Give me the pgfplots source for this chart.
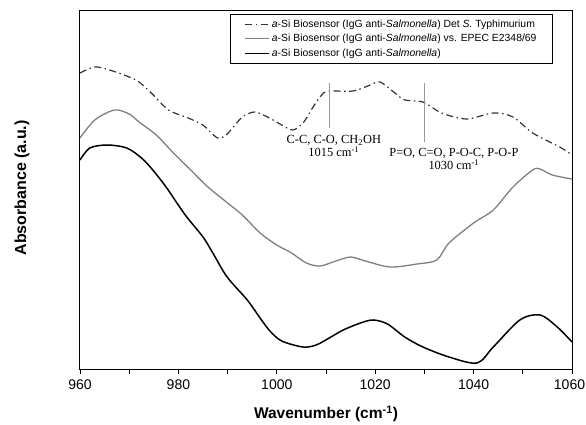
\documentclass[border=0pt]{standalone}
\usepackage{pgfplots}
\pgfplotsset{compat=1.18}
\usepackage{fontspec}
\setmainfont{Liberation Sans}
\newfontfamily\tnr{Liberation Serif}
\definecolor{ddark}{HTML}{333333}
\definecolor{mgray}{HTML}{808080}
\definecolor{agray}{HTML}{999999}
\begin{document}
\begin{tikzpicture}
\useasboundingbox (-80pt,-55pt) rectangle (506pt,370pt);
\begin{axis}[
  at={(0pt,0pt)}, anchor=south west,
  width=492pt, height=359pt, scale only axis,
  xmin=960, xmax=1060, ymin=-370, ymax=-11,
  xtick={960,980,1000,1020,1040,1060},
  xticklabels={960,980,1000,1020,1040,\hspace*{-5pt}1060},
  minor xtick={970,990,1010,1030,1050},
  ytick=\empty,
  tick align=outside, major tick length=4pt, minor tick length=4pt,
  tick style={black, line width=0.8pt},
  xtick pos=bottom,
  axis line style={line width=1pt},
  ticklabel style={font=\fontsize{14}{16}\selectfont},
  xticklabel style={yshift=-2pt},
  xlabel={\textbf{Wavenumber (cm\textsuperscript{-1})}},
  ylabel={\textbf{Absorbance (a.u.)}},
  label style={font=\fontsize{15.5}{18}\selectfont},
  xlabel style={at={(axis description cs:0.5,-0.122)}, anchor=center},
  ylabel style={at={(axis description cs:-0.118,0.507)}, anchor=center, font=\fontsize{16}{18}\selectfont},
  legend style={at={(axis description cs:0.961,0.992)}, anchor=north east,
    font=\fontsize{10.4}{12}\selectfont, draw=black, line width=0.6pt,
    inner xsep=14pt, inner ysep=3.5pt, row sep=1.5pt},
  legend cell align=left,
  legend image code/.code={\draw[#1] (0pt,0pt) -- (24pt,0pt);},
]
\addplot[ddark, line width=1.2pt, smooth, dash pattern=on 7pt off 3.5pt on 1.5pt off 3.5pt] coordinates {
(960,-73) (963,-67) (966,-70) (970,-77) (972,-82) (974.5,-93) (978,-110) (982,-118) (985,-125) (986.5,-132) (988,-138) (989.5,-136) (991,-128) (993,-117) (995.5,-112) (998.5,-118) (1001,-125) (1003.3,-130) (1005.5,-122) (1007.5,-106) (1009.5,-93) (1011,-91) (1015.5,-91) (1019,-85) (1021,-82) (1024,-93) (1026,-100) (1029.7,-102) (1033.5,-113) (1038.6,-119) (1044,-113) (1048,-117) (1052,-133) (1057.5,-147) (1060,-155)};
\addlegendentry{\textit{a}-Si Biosensor (IgG anti-\textit{Salmonella}) Det \textit{S.} Typhimurium}
\addplot[mgray, line width=1.3pt, smooth] coordinates {
(960,-138) (963,-120) (967,-110) (970,-114) (972,-122) (975.5,-135) (979,-153) (982.5,-170) (986,-187) (990,-203) (993,-215) (996.6,-233) (1000,-245) (1003,-253) (1006,-263) (1008.8,-266) (1012,-261) (1015,-257) (1018,-261) (1023,-267) (1028.5,-264) (1032.5,-260) (1035,-243) (1040,-223) (1044,-210) (1048,-187) (1052,-170) (1053.5,-169) (1056,-175) (1060,-179)};
\addlegendentry{\textit{a}-Si Biosensor (IgG anti-\textit{Salmonella}) vs. EPEC E2348/69}
\addplot[black, line width=1.5pt, smooth] coordinates {
(960,-160) (962,-148) (965.5,-145) (969.5,-148) (972.5,-158) (974.8,-170) (977.5,-187) (979.7,-203) (981.7,-217) (985,-237) (987,-253) (989.9,-277) (994,-300) (996.6,-318) (998.6,-331) (1001,-341) (1005.3,-347) (1008,-345) (1011,-337) (1013.5,-330) (1017,-323) (1019.6,-320) (1022.5,-324) (1026,-337) (1029.7,-347) (1035,-357) (1040.7,-363) (1044,-347) (1049.4,-320) (1053.5,-315) (1057,-327) (1060,-342)};
\addlegendentry{\textit{a}-Si Biosensor (IgG anti-\textit{Salmonella})}
\draw[agray, line width=0.8pt] (axis cs:1010.6,-83) -- (axis cs:1010.6,-128);
\draw[agray, line width=0.8pt] (axis cs:1029.9,-83) -- (axis cs:1029.9,-142);
\node[font=\tnr\fontsize{12.4}{13}\selectfont, align=center, inner sep=0pt] at (axis cs:1011.6,-146) {C-C, C-O, CH\textsubscript{2}OH\\[0pt]1015 cm\textsuperscript{-1}};
\node[font=\tnr\fontsize{12.4}{13}\selectfont, align=center, inner sep=0pt] at (axis cs:1036,-159) {P=O, C=O, P-O-C, P-O-P\\[0pt]1030 cm\textsuperscript{-1}};
\end{axis}
\end{tikzpicture}
\end{document}
